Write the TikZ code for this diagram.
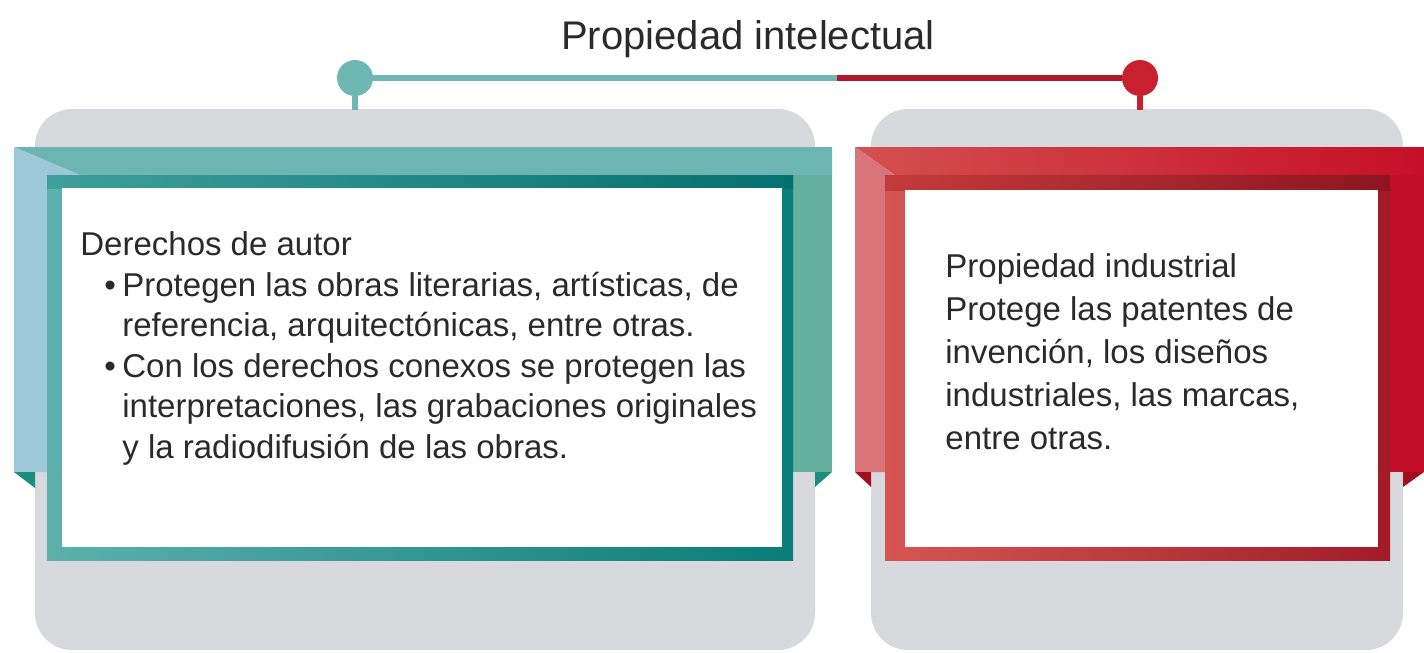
\documentclass[tikz,border=0pt]{standalone}
\usepackage{fontspec}
\setmainfont{Liberation Sans}
\usepackage{tikz}

\definecolor{cardgray}{HTML}{D8D9DC}
\definecolor{ink}{HTML}{2A2A2A}
\definecolor{tealLine}{HTML}{6DB8B2}
\definecolor{tealTop}{HTML}{6DB5B2}
\definecolor{tealSide}{HTML}{9CC8D8}
\definecolor{tealRight}{HTML}{66AE9F}
\definecolor{tealFold}{HTML}{1E8E7C}
\definecolor{tealInL}{HTML}{5DB0AC}
\definecolor{tealInR}{HTML}{0A7C7A}
\definecolor{tealBandL}{HTML}{3E9F9C}
\definecolor{tealBandR}{HTML}{04706F}
\definecolor{redLine}{HTML}{B0182C}
\definecolor{redPin}{HTML}{C8202E}
\definecolor{redTopL}{HTML}{D4504F}
\definecolor{redTopR}{HTML}{C50F28}
\definecolor{redSide}{HTML}{D9747A}
\definecolor{redRight}{HTML}{C20E27}
\definecolor{redFold}{HTML}{A20E1C}
\definecolor{redInL}{HTML}{D65552}
\definecolor{redInR}{HTML}{A11C27}
\definecolor{redBandL}{HTML}{C33B3C}
\definecolor{redBandR}{HTML}{8E1520}

\tikzset{
  txt/.style={anchor=base west, inner sep=0pt, text=ink, font=\fontsize{16.5}{20}\selectfont},
  pin/.style={circle, inner sep=0pt, minimum size=18pt},
}

\begin{document}
\begin{tikzpicture}[x=0.5pt,y=-0.5pt]
\useasboundingbox (0,0) rectangle (1424,653);
% gray cards
\fill[cardgray, rounded corners=18.5pt] (35,109) rectangle (815,650);
\fill[cardgray, rounded corners=18.5pt] (871,109) rectangle (1403,650);
% title and pins
\node[anchor=base, inner sep=0pt, text=ink, font=\fontsize{20}{24}\selectfont] (tit) at (748,49) {Propiedad intelectual};
\node[pin, fill=tealLine] (pinA) at (355,78) {};
\node[pin, fill=redPin] (pinI) at (1140,78) {};
\coordinate (mid) at (837,78);
\draw[tealLine, line width=3pt] (pinA) -- (mid);
\draw[redLine, line width=3pt] (mid) -- (pinI);
\draw[tealLine, line width=3pt] (pinA.south) -- ++(0,14);
\draw[redPin, line width=3pt] (pinI.south) -- ++(0,14);
% teal ribbon
\fill[tealRight] (793,147) rectangle (832,472);
\fill[tealTop] (14,147) -- (832,147) -- (832,175) -- (80,175) -- cycle;
\fill[tealSide] (14,147) -- (80,175) -- (47,175) -- (47,472) -- (14,472) -- cycle;
\fill[tealFold] (14,472) -- (35,472) -- (35,488) -- cycle;
\fill[tealFold] (815,472) -- (832,472) -- (815,487) -- cycle;
\shade[left color=tealInL, right color=tealInR] (47,175) rectangle (793,560);
\shade[left color=tealBandL, right color=tealBandR] (47,175) rectangle (793,188);
\fill[white] (62,188) rectangle (782,547);
% red ribbon
\fill[redRight] (1390,147) rectangle (1424,472);
\shade[left color=redTopL, right color=redTopR] (855,147) -- (1424,147) -- (1424,175) -- (895,175) -- cycle;
\fill[redSide] (855,147) -- (895,175) -- (885,175) -- (885,472) -- (855,472) -- cycle;
\fill[redFold] (855,472) -- (871,472) -- (871,487) -- cycle;
\fill[redFold] (1403,472) -- (1424,472) -- (1403,487) -- cycle;
\shade[left color=redInL, right color=redInR] (885,175) rectangle (1390,560);
\shade[left color=redBandL, right color=redBandR] (885,175) rectangle (1390,190);
\fill[white] (905,190) rectangle (1378,547);
% Derechos de autor
\node[txt] (dA) at (80,255) {Derechos de autor};
\node[txt] (bA) at (104,296) {•};
\node[txt] (dA1) at (122,296) {Protegen las obras literarias, artísticas, de};
\node[txt] (dA2) at (122,336) {referencia, arquitectónicas, entre otras.};
\node[txt] (bB) at (104,377) {•};
\node[txt] (dA3) at (122,377) {Con los derechos conexos se protegen las};
\node[txt] (dA4) at (122,417) {interpretaciones, las grabaciones originales};
\node[txt] (dA5) at (122,458) {y la radiodifusión de las obras.};
% Propiedad industrial
\node[txt] (pI) at (945,277) {Propiedad industrial};
\node[txt] (pI1) at (945,320) {Protege las patentes de};
\node[txt] (pI2) at (945,363) {invención, los diseños};
\node[txt] (pI3) at (945,406) {industriales, las marcas,};
\node[txt] (pI4) at (945,449) {entre otras.};
\end{tikzpicture}
\end{document}
